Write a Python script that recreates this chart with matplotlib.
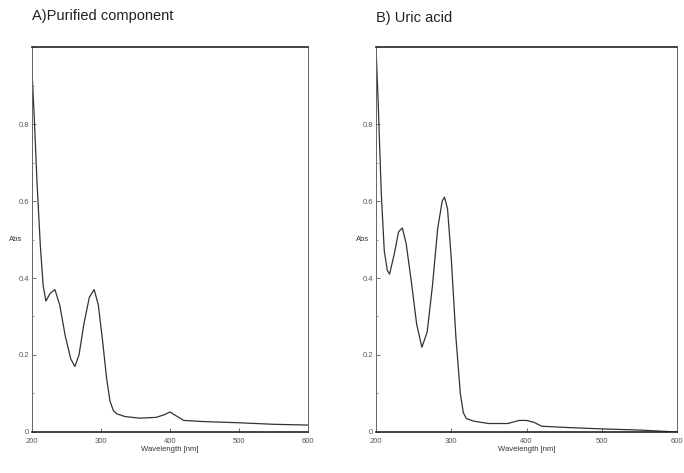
import matplotlib
matplotlib.use("Agg")
import matplotlib.pyplot as plt
from matplotlib.ticker import MultipleLocator

plt.rcParams['font.family'] = ['Liberation Sans', 'DejaVu Sans']

# Panel A: purified component (wavelength nm, absorbance)
wl_a = [200, 203, 207, 212, 216, 220, 226, 233, 240, 248, 256, 262, 268, 275,
        283, 290, 296, 302, 308, 313, 318, 323, 335, 356, 380, 392, 400, 408,
        420, 450, 500, 550, 600]
abs_a = [0.93, 0.82, 0.65, 0.48, 0.38, 0.34, 0.36, 0.37, 0.33, 0.25, 0.19, 0.17,
         0.20, 0.28, 0.35, 0.37, 0.33, 0.24, 0.14, 0.08, 0.055, 0.047, 0.04,
         0.036, 0.038, 0.045, 0.052, 0.043, 0.03, 0.027, 0.024, 0.02, 0.018]

# Panel B: uric acid
wl_b = [200, 203, 207, 211, 215, 218, 224, 230, 235, 240, 247, 254, 261, 268,
        275, 282, 288, 291, 295, 300, 306, 312, 316, 320, 330, 350, 375, 390,
        400, 410, 420, 450, 500, 550, 600]
abs_b = [1.0, 0.85, 0.62, 0.47, 0.42, 0.41, 0.46, 0.52, 0.53, 0.49, 0.39, 0.28,
         0.22, 0.26, 0.38, 0.53, 0.60, 0.61, 0.58, 0.45, 0.25, 0.10, 0.05, 0.035,
         0.028, 0.022, 0.022, 0.03, 0.03, 0.025, 0.015, 0.012, 0.008, 0.005, 0.0]

x_ticks = [200, 300, 400, 500, 600]
y_ticks = [0, 0.2, 0.4, 0.6, 0.8]
y_labels = ['0', '0.2', '0.4', '0.6', '0.8']

fig = plt.figure(figsize=(6.84, 4.73), dpi=100)

panels = [
    ([0.047, 0.0867, 0.403, 0.8139], wl_a, abs_a, 'A)Purified component', 0.967),
    ([0.5497, 0.0867, 0.4403, 0.8139], wl_b, abs_b, 'B) Uric acid', 0.962),
]

for rect, wl, ab, title, ty in panels:
    ax = fig.add_axes(rect)
    ax.plot(wl, ab, color='#333333', lw=0.9)
    ax.set_xlim(200, 600)
    ax.set_ylim(0, 1.0)
    ax.set_xticks(x_ticks)
    ax.set_xticklabels([str(t) for t in x_ticks], fontsize=5.5, color='#444444')
    ax.set_yticks(y_ticks)
    ax.set_yticklabels(y_labels, fontsize=5.5, color='#444444')
    ax.yaxis.set_minor_locator(MultipleLocator(0.1))
    ax.tick_params(direction='in', length=3, width=0.6, colors='#555555', pad=2)
    ax.tick_params(axis='x', pad=4)
    ax.tick_params(which='minor', direction='in', length=1.5, width=0.5, colors='#777777')
    for side in ['top', 'bottom']:
        ax.spines[side].set_linewidth(1.2)
        ax.spines[side].set_color('#222222')
    for side in ['left', 'right']:
        ax.spines[side].set_linewidth(0.7)
        ax.spines[side].set_color('#666666')
    ax.set_xlabel('Wavelength [nm]', fontsize=5.5, color='#333333', labelpad=1)
    ax.set_ylabel('Abs', fontsize=5.5, rotation=0, color='#333333', labelpad=6)
    ax.yaxis.set_label_coords(-0.06 if rect[0] < 0.3 else -0.045, 0.49)
    fig.text(rect[0] + 0.0, ty, title, fontsize=10.5, color='#222222',
             ha='left', va='center', fontweight='medium')

fig.savefig('out.png', dpi=100)
